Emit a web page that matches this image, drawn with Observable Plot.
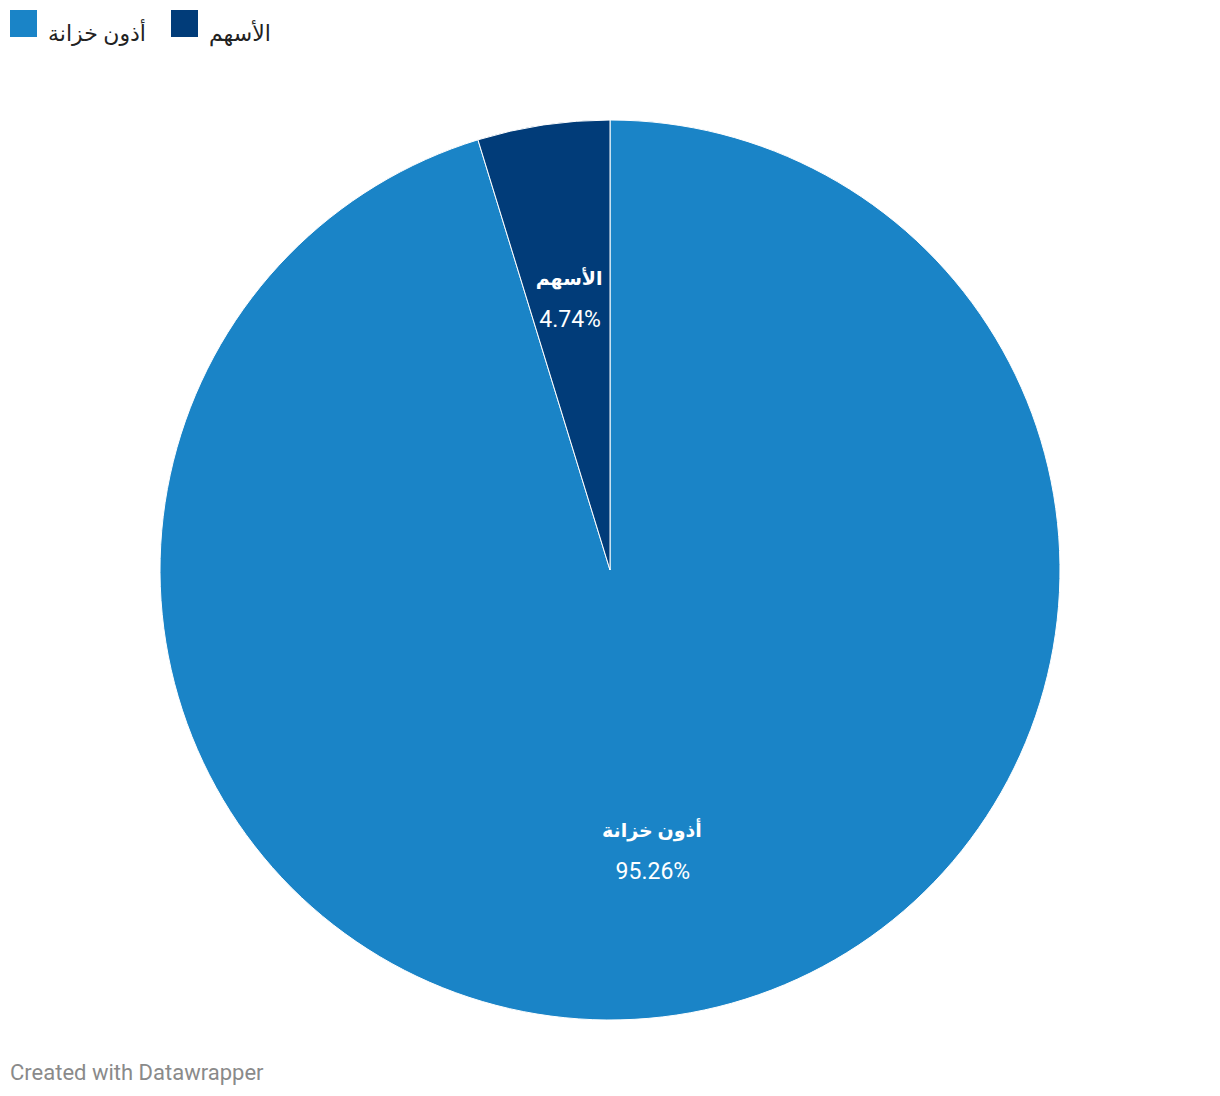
<!DOCTYPE html>
<html>
<head>
<meta charset="utf-8">
<script src="https://cdn.jsdelivr.net/npm/d3@7"></script>
<script src="https://cdn.jsdelivr.net/npm/@observablehq/plot@0.6"></script>
<style>
  html, body { margin: 0; padding: 0; background: #fff; }
  body { width: 1220px; font-family: Roboto, "Noto Sans", "DejaVu Sans", sans-serif; }
  #legend { padding: 10px 0 0 10px; height: 40px; box-sizing: border-box; display: flex; align-items: flex-start; }
  .item { display: flex; align-items: center; margin-right: 25px; height: 27px; }
  .sw { width: 27px; height: 27px; margin-right: 11px; flex: none; }
  .lbl { font-size: 22px; color: #222; line-height: 27px; position: relative; top: 10px; }
  #footer { padding: 10px 0 0 10px; font-size: 22px; color: #8a8a8a; font-family: Roboto, sans-serif; }
</style>
</head>
<body>
<div id="legend"></div>
<div id="chart"></div>
<div id="footer">Created with Datawrapper</div>
<script>
const categories = ["أذون خزانة", "الأسهم"];
const values = [95.26, 4.74];
const valueLabels = ["95.26%", "4.74%"];
const colors = ["#1a84c7", "#013c79"];

const data = categories.map((name, i) => ({name, value: values[i], label: valueLabels[i]}));

const W = 1220, H = 1010;
const cx = 610, cy = 530, R = 450;

const pie = d3.pie().value(d => d.value).sort(null);
const arcs = pie(data);
const labelArc = d3.arc().innerRadius(R * 0.62).outerRadius(R * 0.62);
const labelData = arcs.map(a => {
  const [x, y] = labelArc.centroid(a);
  return {name: a.data.name, label: a.data.label, x: cx + x, y: cy + y};
});

function slices(index, scales, values, dimensions) {
  const arc = d3.arc().innerRadius(0).outerRadius(R);
  const g = d3.create("svg:g").attr("transform", `translate(${cx},${cy})`);
  g.selectAll("path").data(arcs).join("path")
    .attr("d", arc)
    .attr("fill", d => scales.color(d.data.name))
    .attr("stroke", "#fff")
    .attr("stroke-width", 1)
    .attr("stroke-linejoin", "round");
  return g.node();
}

const chart = Plot.plot({
  width: W,
  height: H,
  margin: 0,
  x: {type: "identity", axis: null},
  y: {type: "identity", axis: null},
  color: {domain: categories, range: colors},
  style: {fontFamily: 'Roboto, "Noto Sans", "DejaVu Sans", sans-serif', background: "#fff"},
  marks: [
    Plot.dot(data, {x: () => cx, y: () => cy, r: 0, fill: "name"}),
    slices,
    Plot.text(labelData, {x: "x", y: "y", text: "name", dy: -16, fill: "#fff", fontSize: 19, fontWeight: "bold"}),
    Plot.text(labelData, {x: "x", y: "y", text: "label", dy: 25, dx: 1, fill: "#fff", fontSize: 23})
  ]
});
document.getElementById("chart").appendChild(chart);

const colorScale = chart.scale("color");
const legend = d3.select("#legend");
categories.forEach((c, i) => {
  const item = legend.append("div").attr("class", "item");
  item.append("div").attr("class", "sw").style("background", colorScale.range[i]);
  item.append("span").attr("class", "lbl").text(c);
});
</script>
</body>
</html>
